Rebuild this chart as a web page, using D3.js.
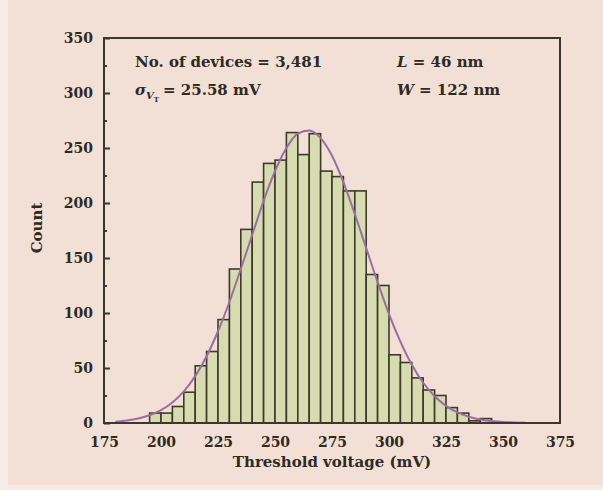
<!DOCTYPE html>
<html>
<head>
<meta charset="utf-8">
<script src="https://cdn.jsdelivr.net/npm/d3@7"></script>
<style>
  body { margin: 0; background: #f7ece6; }
  svg { display: block; }
  text { font-family: "DejaVu Serif", "Liberation Serif", serif; fill: #2e2a24; }
</style>
</head>
<body>
<svg id="vis" width="603" height="490"></svg>
<script>
// histogram bins (left edge, mV) and counts
var binStart = [195,200,205,210,215,220,225,230,235,240,245,250,255,260,265,
                270,275,280,285,290,295,300,305,310,315,320,325,330,335,340];
var counts   = [9,9,15,28,52,65,94,140,176,219,236,239,264,244,263,
                229,224,211,211,135,125,62,55,41,30,25,14,9,2,4];
var binWidth = 5;

// fitted normal curve, sampled from the figure
var curveX = [180,185,190,195,200,205,210,215,220,225,230,235,240,245,250,255,260,265,
              270,275,280,285,290,295,300,305,310,315,320,325,330,335,340,345,350,355,360];
var curveY = [1.2,2.3,4.1,7,11.7,18.7,28.7,42.6,60.7,83.4,110,140,171,202,229,250,263,266,
              259,243,219,190,159,128,99,74,53,36.6,24.3,15.6,9.6,5.7,3.2,1.8,0.9,0.5,0.2];

var xTicks = [175,200,225,250,275,300,325,350,375];
var yTicks = [0,50,100,150,200,250,300,350];
var yMinor = [25,75,125,175,225,275,325];

var svg = d3.select('#vis');

// page / figure background
svg.append('rect')
    .attr('x', 8).attr('y', 0)
    .attr('width', 595).attr('height', 485)
    .attr('fill', '#f2dfd5');

var plot = {l: 104, r: 560, t: 38, b: 423};

var x = d3.scaleLinear().domain([175, 375]).range([plot.l, plot.r]);
var y = d3.scaleLinear().domain([0, 350]).range([plot.b, plot.t]);

var bars = binStart.map(function(d, i){ return {x0: d, x1: d + binWidth, n: counts[i]}; });

svg.append('g').attr('class', 'bars')
    .selectAll('rect')
    .data(bars)
    .enter()
    .append('rect')
    .attr('x', function(d){ return x(d.x0); })
    .attr('y', function(d){ return y(d.n); })
    .attr('width', function(d){ return x(d.x1) - x(d.x0); })
    .attr('height', function(d){ return y(0) - y(d.n); })
    .attr('fill', '#d7dbb0')
    .attr('stroke', '#3d3a2a')
    .attr('stroke-width', 1.6);

var line = d3.line()
    .x(function(d){ return x(d[0]); })
    .y(function(d){ return y(d[1]); })
    .curve(d3.curveMonotoneX);

svg.append('path')
    .datum(curveX.map(function(d, i){ return [d, curveY[i]]; }))
    .attr('d', line)
    .attr('fill', 'none')
    .attr('stroke', '#9a6ea4')
    .attr('stroke-width', 2);

// frame
svg.append('rect')
    .attr('x', plot.l).attr('y', plot.t)
    .attr('width', plot.r - plot.l).attr('height', plot.b - plot.t)
    .attr('fill', 'none')
    .attr('stroke', '#3a3630')
    .attr('stroke-width', 2);

// y axis, ticks inward
var yAxis = svg.append('g')
    .attr('transform', 'translate(' + plot.l + ',0)')
    .call(d3.axisLeft(y).tickValues(yTicks).tickSizeInner(-6).tickSizeOuter(0).tickPadding(11));
yAxis.select('.domain').remove();
yAxis.selectAll('line').attr('stroke', '#3a3630').attr('stroke-width', 2);
yAxis.selectAll('text').attr('font-size', 14).attr('font-weight', 'bold').attr('fill', '#2e2a24');

var yAxisMinor = svg.append('g')
    .attr('transform', 'translate(' + plot.l + ',0)')
    .call(d3.axisLeft(y).tickValues(yMinor).tickSizeInner(-3).tickSizeOuter(0).tickFormat(''));
yAxisMinor.select('.domain').remove();
yAxisMinor.selectAll('line').attr('stroke', '#3a3630').attr('stroke-width', 2);

// x axis
var xAxis = svg.append('g')
    .attr('transform', 'translate(0,' + plot.b + ')')
    .call(d3.axisBottom(x).tickValues(xTicks).tickSizeInner(0).tickSizeOuter(0).tickPadding(14));
xAxis.select('.domain').remove();
xAxis.selectAll('text').attr('font-size', 14).attr('font-weight', 'bold').attr('fill', '#2e2a24');

// axis titles
svg.append('text')
    .attr('x', (plot.l + plot.r) / 2)
    .attr('y', 467)
    .style('text-anchor', 'middle')
    .style('font-size', '15px')
    .style('font-weight', 'bold')
    .text('Threshold voltage  (mV)');

svg.append('text')
    .attr('transform', 'translate(42,228) rotate(-90)')
    .style('text-anchor', 'middle')
    .style('font-size', '15px')
    .style('font-weight', 'bold')
    .text('Count');

// annotations
var note = svg.append('g').style('font-size', '15px').style('font-weight', 'bold');

note.append('text').attr('x', 135).attr('y', 67).text('No. of devices = 3,481');

var sig = note.append('text').attr('x', 135).attr('y', 95);
sig.append('tspan').style('font-style', 'italic').text('σ');
sig.append('tspan').attr('dy', 4).style('font-size', '10px').style('font-style', 'italic').text('V');
sig.append('tspan').attr('dy', 3).style('font-size', '7px').text('T');
sig.append('tspan').attr('dy', -7).attr('dx', 4).text('= 25.58 mV');

var lt = note.append('text').attr('x', 397).attr('y', 67);
lt.append('tspan').style('font-style', 'italic').text('L');
lt.append('tspan').text(' = 46 nm');

var wt = note.append('text').attr('x', 397).attr('y', 95);
wt.append('tspan').style('font-style', 'italic').text('W');
wt.append('tspan').text(' = 122 nm');
</script>
</body>
</html>
